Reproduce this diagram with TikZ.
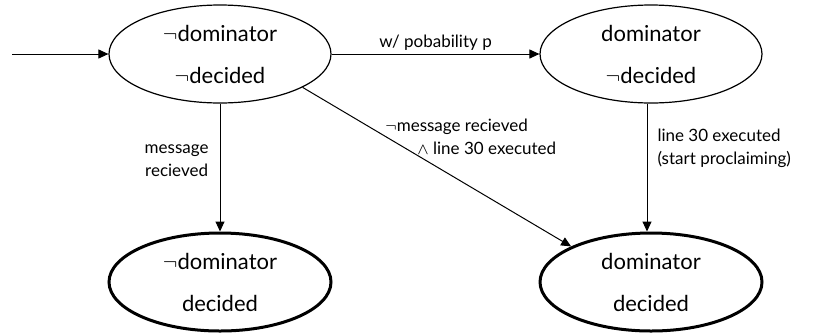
\documentclass[tikz,border=0pt]{standalone}
\usepackage{fontspec}
\usepackage{amsmath}
\setmainfont{Lato}
\usetikzlibrary{shapes.geometric,arrows.meta}

\begin{document}
\begin{tikzpicture}[x=0.5pt,y=-0.5pt,
	state/.style={shape=ellipse,draw=black,line width=0.6pt,minimum width=111pt,minimum height=49pt,inner sep=0pt,align=center,font=\fontsize{11}{21}\selectfont},
	final/.style={state,line width=1.5pt},
	lbl/.style={font=\fontsize{8.5}{11.5}\selectfont,inner sep=1.5pt},
	>={Triangle[length=5pt,width=4.5pt]}]
	\useasboundingbox (0,0) rectangle (817,333);

	\node[state] (a) at (220,54)   {$\neg$dominator\\$\neg$decided};
	\node[state] (b) at (651,54)   {dominator\\$\neg$decided};
	\node[final] (c) at (220,282)  {$\neg$dominator\\decided};
	\node[final] (d) at (651,282)  {dominator\\decided};
	\coordinate (in) at (12,54);

	\path[->,line width=0.5pt] (in) edge (a);
	\path[->,line width=0.5pt] (a) edge node[above,lbl]{w/ pobability p} (b);
	\path[->,line width=0.5pt] (a) edge node[pos=0.45,left=4pt,lbl,align=center]{message\\recieved} (c);
	\path[->,line width=0.5pt] ([xshift=-2pt]b.south) edge node[pos=0.35,right=3.5pt,lbl,align=left]{line 30 executed\\(start proclaiming)} ([xshift=-2pt]d.north);
	\path[->,line width=0.5pt] (a.-22) edge node[pos=0.66,above=17pt,xshift=-4.5pt,lbl,align=left]{$\neg$message recieved\\\hspace{16pt}$\wedge$ line 30 executed} (d.156);
\end{tikzpicture}
\end{document}
